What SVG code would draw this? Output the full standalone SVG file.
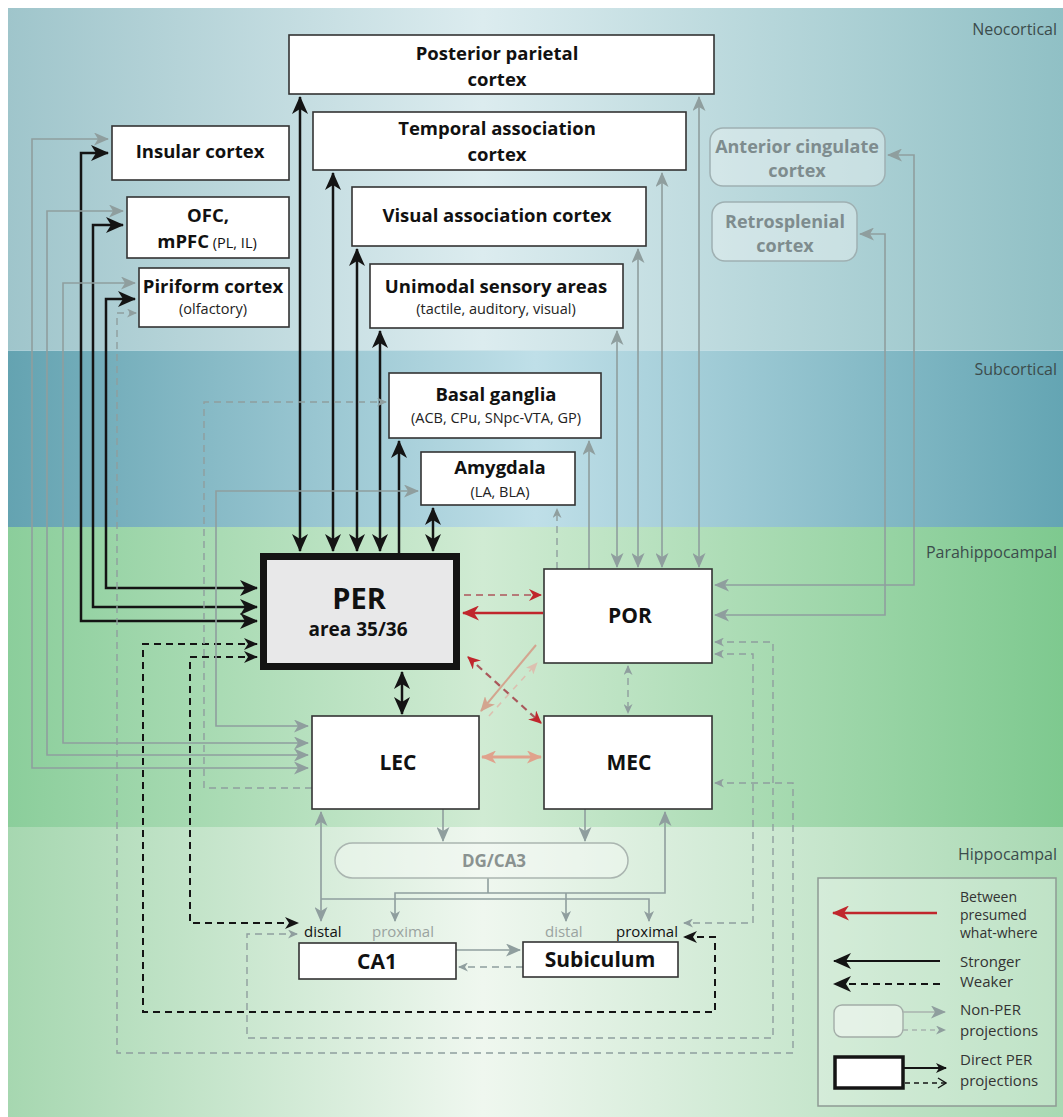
<svg xmlns="http://www.w3.org/2000/svg" width="1063" height="1117" viewBox="0 0 1063 1117">
<defs>
<linearGradient id="gNeo" x1="0" x2="1" y1="0" y2="0">
<stop offset="0" stop-color="#9fc5cb"/><stop offset="0.45" stop-color="#dcecef"/><stop offset="1" stop-color="#90c0c5"/>
</linearGradient>
<linearGradient id="gSub" x1="0" x2="1" y1="0" y2="0">
<stop offset="0" stop-color="#64a3b1"/><stop offset="0.5" stop-color="#bfdfe8"/><stop offset="1" stop-color="#64a5b3"/>
</linearGradient>
<linearGradient id="gPara" x1="0" x2="1" y1="0" y2="0">
<stop offset="0" stop-color="#8bce9b"/><stop offset="0.45" stop-color="#d0ebd3"/><stop offset="1" stop-color="#7ec98f"/>
</linearGradient>
<linearGradient id="gHip" x1="0" x2="1" y1="0" y2="0">
<stop offset="0" stop-color="#a6d7b0"/><stop offset="0.45" stop-color="#eff7ef"/><stop offset="1" stop-color="#a9d9b3"/>
</linearGradient>
<marker id="ab" markerUnits="userSpaceOnUse" viewBox="0 0 18 16" markerWidth="18" markerHeight="16" refX="17" refY="8" orient="auto-start-reverse"><path d="M0,0 L18,8 L0,16 L5,8 Z" fill="#141414"/></marker>
<marker id="abd" markerUnits="userSpaceOnUse" viewBox="0 0 14 12" markerWidth="14" markerHeight="12" refX="13" refY="6" orient="auto-start-reverse"><path d="M0,0 L14,6 L0,12 L4,6 Z" fill="#141414"/></marker>
<marker id="ag" markerUnits="userSpaceOnUse" viewBox="0 0 15 13" markerWidth="15" markerHeight="13" refX="14" refY="6.5" orient="auto-start-reverse"><path d="M0,0 L15,6.5 L0,13 L4,6.5 Z" fill="#8f9e9e"/></marker>
<marker id="ags" markerUnits="userSpaceOnUse" viewBox="0 0 11 10" markerWidth="11" markerHeight="10" refX="10" refY="5" orient="auto-start-reverse"><path d="M0,0 L11,5 L0,10 L3,5 Z" fill="#8f9e9e"/></marker>
<marker id="agd" markerUnits="userSpaceOnUse" viewBox="0 0 10 9" markerWidth="10" markerHeight="9" refX="9" refY="4.5" orient="auto-start-reverse"><path d="M0,0 L10,4.5 L0,9 L3,4.5 Z" fill="#8f9e9e"/></marker>
<marker id="ar" markerUnits="userSpaceOnUse" viewBox="0 0 17 15" markerWidth="17" markerHeight="15" refX="16" refY="7.5" orient="auto-start-reverse"><path d="M0,0 L17,7.5 L0,15 L5,7.5 Z" fill="#c0262c"/></marker>
<marker id="ars" markerUnits="userSpaceOnUse" viewBox="0 0 13 12" markerWidth="13" markerHeight="12" refX="12" refY="6" orient="auto-start-reverse"><path d="M0,0 L13,6 L0,12 L4,6 Z" fill="#c0262c"/></marker>
<marker id="at" markerUnits="userSpaceOnUse" viewBox="0 0 15 13" markerWidth="15" markerHeight="13" refX="14" refY="6.5" orient="auto-start-reverse"><path d="M0,0 L15,6.5 L0,13 L4,6.5 Z" fill="#d3a58f"/></marker>
<marker id="ats" markerUnits="userSpaceOnUse" viewBox="0 0 12 10" markerWidth="12" markerHeight="10" refX="11" refY="5" orient="auto-start-reverse"><path d="M0,0 L12,5 L0,10 L3,5 Z" fill="#dcc0b0"/></marker>
<marker id="atl" markerUnits="userSpaceOnUse" viewBox="0 0 15 13" markerWidth="15" markerHeight="13" refX="14" refY="6.5" orient="auto-start-reverse"><path d="M0,0 L15,6.5 L0,13 L4,6.5 Z" fill="#e0a28c"/></marker>
<marker id="aopen" markerUnits="userSpaceOnUse" viewBox="0 0 10 12" markerWidth="10" markerHeight="12" refX="9" refY="6" orient="auto"><path d="M1,1 L9,6 L1,11" fill="none" stroke="#141414" stroke-width="1.3"/></marker>
<marker id="abs" markerUnits="userSpaceOnUse" viewBox="0 0 11 10" markerWidth="11" markerHeight="10" refX="10" refY="5" orient="auto"><path d="M0,0 L11,5 L0,10 L3,5 Z" fill="#141414"/></marker>
</defs>
<style>
text{font-family:"Open Sans","Liberation Sans",sans-serif;}
.box{fill:#ffffff;stroke:#333333;stroke-width:1.6;}
.soft{fill:#eef5f5;fill-opacity:0.45;stroke:#9fb0b2;stroke-width:1.5;}
.t{font-weight:bold;font-size:18.5px;fill:#111;text-anchor:middle;}
.s{font-size:14.5px;fill:#222;text-anchor:middle;}
.tg{font-weight:bold;font-size:18px;fill:#7e8c8e;text-anchor:middle;}
.big{font-weight:bold;font-size:21px;fill:#111;text-anchor:middle;}
.reg{font-size:16px;fill:#3c4c4c;text-anchor:end;}
.lbl{font-size:15px;}
.leg{font-size:14px;fill:#333;}
.leg2{font-size:15px;fill:#333;}
.k{fill:none;stroke:#141414;stroke-width:2.5;}
.kd{fill:none;stroke:#141414;stroke-width:2;stroke-dasharray:7 5;}
.g{fill:none;stroke:#8f9e9e;stroke-width:1.6;}
.gd{fill:none;stroke:#8f9e9e;stroke-width:1.4;stroke-dasharray:7 5;}
</style>
<rect x="0" y="0" width="1063" height="1117" fill="#ffffff"/>
<rect x="8" y="8" width="1055" height="342" fill="url(#gNeo)"/>
<rect x="8" y="350" width="1055" height="177" fill="url(#gSub)"/>
<rect x="8" y="527" width="1055" height="300" fill="url(#gPara)"/>
<rect x="8" y="827" width="1055" height="290" fill="url(#gHip)"/>
<line x1="8" y1="350.5" x2="1063" y2="350.5" stroke="#d8eaee" stroke-width="1" opacity="0.6"/>
<g id="region-labels">
<text class="reg" x="1057" y="35">Neocortical</text>
<text class="reg" x="1057" y="375">Subcortical</text>
<text class="reg" x="1057" y="558">Parahippocampal</text>
<text class="reg" x="1057" y="860">Hippocampal</text>
</g>
<g id="connectors">
<path class="k" d="M300,551 V97" marker-start="url(#ab)" marker-end="url(#ab)"/>
<path class="k" d="M333,551 V173" marker-start="url(#ab)" marker-end="url(#ab)"/>
<path class="k" d="M357,551 V249" marker-start="url(#ab)" marker-end="url(#ab)"/>
<path class="k" d="M380,551 V331" marker-start="url(#ab)" marker-end="url(#ab)"/>
<path class="k" d="M399,553 V441" marker-end="url(#ab)"/>
<path class="k" d="M433,551 V508" marker-start="url(#ab)" marker-end="url(#ab)"/>
<path class="k" d="M257,621 H81 V153 H108" marker-start="url(#ab)" marker-end="url(#ab)"/>
<path class="k" d="M257,607 H93 V225 H123" marker-start="url(#ab)" marker-end="url(#ab)"/>
<path class="k" d="M257,588 H106 V299 H135" marker-start="url(#ab)" marker-end="url(#ab)"/>
<path class="k" d="M402,672 V714" marker-start="url(#ab)" marker-end="url(#ab)"/>
<path class="kd" d="M257,644 H143 V1012 H715 V937 H684" marker-start="url(#abd)" marker-end="url(#abd)"/>
<path class="kd" d="M257,657 H190 V923 H298" marker-start="url(#abd)" marker-end="url(#abd)"/>
<path d="M464,595 H541" fill="none" stroke="#b57a78" stroke-width="2.2" stroke-dasharray="7 5" marker-end="url(#ars)"/>
<path d="M543,613 H463" fill="none" stroke="#c0262c" stroke-width="2.5" marker-end="url(#ar)"/>
<path d="M468,657 L541,723" fill="none" stroke="#a9585b" stroke-width="2.2" stroke-dasharray="7 5" marker-start="url(#ars)" marker-end="url(#ars)"/>
<path d="M536,645 L481,711" fill="none" stroke="#d3a58f" stroke-width="2" marker-end="url(#at)"/>
<path d="M489,716 L537,663" fill="none" stroke="#dcc0b0" stroke-width="1.6" stroke-dasharray="6 6" marker-end="url(#ats)"/>
<path d="M482,757 H541" fill="none" stroke="#e0a28c" stroke-width="3" marker-start="url(#atl)" marker-end="url(#atl)"/>
<path class="g" d="M699,567 V97" marker-start="url(#ag)" marker-end="url(#ag)"/>
<path class="g" d="M662,567 V173" marker-start="url(#ag)" marker-end="url(#ag)"/>
<path class="g" d="M638,567 V249" marker-start="url(#ag)" marker-end="url(#ag)"/>
<path class="g" d="M617,567 V331" marker-start="url(#ag)" marker-end="url(#ag)"/>
<path class="g" d="M589,569 V441" marker-end="url(#ag)"/>
<path class="g" d="M715,585 H914 V155 H888" marker-start="url(#ag)" marker-end="url(#ag)"/>
<path class="g" d="M715,615 H885 V234 H860" marker-start="url(#ag)" marker-end="url(#ag)"/>
<path class="g" d="M418,491 H216 V726 H308" marker-start="url(#ag)" marker-end="url(#ag)"/>
<path class="g" d="M135,283 H63 V743 H308" marker-start="url(#ag)" marker-end="url(#ag)"/>
<path class="g" d="M123,211 H47 V755 H308" marker-start="url(#ag)" marker-end="url(#ag)"/>
<path class="g" d="M108,139 H32 V768 H308" marker-start="url(#ag)" marker-end="url(#ag)"/>
<path class="g" d="M443,809 V841" marker-end="url(#ag)"/>
<path class="g" d="M585,809 V841" marker-end="url(#ag)"/>
<path class="g" d="M321,812 V921" marker-start="url(#ag)" marker-end="url(#ag)"/>
<path class="g" d="M321,899 H649 V921" marker-end="url(#ags)"/>
<path class="g" d="M665,812 V893 H395 V921" marker-start="url(#ag)" marker-end="url(#ags)"/>
<path class="g" d="M566,893 V921" marker-end="url(#ags)"/>
<path class="g" d="M488,878 V893"/>
<path class="g" d="M456,950 H520" marker-end="url(#ag)"/>
<path class="gd" d="M312,788 H204 V402 H386" marker-end="url(#agd)"/>
<path class="gd" d="M557,569 V509" marker-end="url(#agd)"/>
<path class="gd" d="M628,666 V713" marker-start="url(#agd)" marker-end="url(#agd)"/>
<path class="gd" d="M715,642 H773 V1038 H247 V934 H297" marker-start="url(#agd)" marker-end="url(#agd)"/>
<path class="gd" d="M715,654 H753 V923 H684" marker-start="url(#agd)" marker-end="url(#agd)"/>
<path class="gd" d="M715,783 H793 V1053 H117 V313 H136" marker-start="url(#agd)" marker-end="url(#agd)"/>
<path class="gd" d="M523,967 H459" marker-end="url(#agd)"/>
</g>
<g id="ppc"><rect class="box" x="289" y="35" width="425" height="59"/><text class="t" x="497" y="60">Posterior parietal</text><text class="t" x="497" y="86">cortex</text></g>
<g id="tac"><rect class="box" x="313" y="112" width="373" height="58"/><text class="t" x="497" y="135">Temporal association</text><text class="t" x="497" y="161">cortex</text></g>
<g id="vac"><rect class="box" x="352" y="187" width="294" height="59"/><text class="t" x="497" y="222">Visual association cortex</text></g>
<g id="usa"><rect class="box" x="370" y="264" width="253" height="64"/><text class="t" x="496" y="293">Unimodal sensory areas</text><text class="s" x="496" y="314">(tactile, auditory, visual)</text></g>
<g id="insular"><rect class="box" x="112" y="126" width="177" height="54"/><text class="t" x="200" y="158">Insular cortex</text></g>
<g id="ofc"><rect class="box" x="127" y="197" width="162" height="61"/><text class="t" x="208" y="222">OFC,</text><text class="t" x="207" y="248">mPFC<tspan font-weight="normal" font-size="14.5px"> (PL, IL)</tspan></text></g>
<g id="piriform"><rect class="box" x="139" y="268" width="150" height="59"/><text class="t" x="213" y="293">Piriform cortex</text><text class="s" x="213" y="314">(olfactory)</text></g>
<g id="acc"><rect class="soft" x="710" y="128" width="175" height="58" rx="13"/><text class="tg" x="797" y="153">Anterior cingulate</text><text class="tg" x="797" y="177">cortex</text></g>
<g id="rsc"><rect class="soft" x="712" y="202" width="145" height="59" rx="13"/><text class="tg" x="785" y="228">Retrosplenial</text><text class="tg" x="785" y="252">cortex</text></g>
<g id="bg"><rect class="box" x="389" y="373" width="212" height="65"/><text class="t" x="496" y="401">Basal ganglia</text><text class="s" x="496" y="423">(ACB, CPu, SNpc-VTA, GP)</text></g>
<g id="amy"><rect class="box" x="421" y="452" width="154" height="53"/><text class="t" x="500" y="474">Amygdala</text><text class="s" x="500" y="497">(LA, BLA)</text></g>
<g id="per"><rect x="263.5" y="556.5" width="193" height="110" fill="#e8e8e9" stroke="#141414" stroke-width="7"/><text x="359" y="609" font-weight="bold" font-size="29px" fill="#111" text-anchor="middle">PER</text><text x="358" y="636" font-weight="bold" font-size="19px" fill="#111" text-anchor="middle">area 35/36</text></g>
<g id="por"><rect class="box" x="544" y="569" width="168" height="94"/><text class="big" x="630" y="623">POR</text></g>
<g id="lec"><rect class="box" x="312" y="716" width="167" height="93"/><text class="big" x="398" y="770">LEC</text></g>
<g id="mec"><rect class="box" x="544" y="716" width="168" height="93"/><text class="big" x="629" y="770">MEC</text></g>
<g id="dgca3"><rect x="335" y="843" width="293" height="35" rx="17.5" fill="#f4f9f4" fill-opacity="0.45" stroke="#aab5b0" stroke-width="1.5"/><text x="494" y="867" font-weight="bold" font-size="17px" fill="#8a9290" text-anchor="middle">DG/CA3</text></g>
<g id="ca1"><rect class="box" x="299" y="943" width="157" height="36"/><text class="big" x="377" y="969" font-size="20px">CA1</text></g>
<g id="sub"><rect class="box" x="523" y="942" width="155" height="35"/><text class="big" x="600" y="967" font-size="19px">Subiculum</text></g>
<g id="sublabels">
<text class="lbl" x="304" y="937" fill="#111">distal</text>
<text class="lbl" x="372" y="937" fill="#9aa3a0">proximal</text>
<text class="lbl" x="545" y="937" fill="#9aa3a0">distal</text>
<text class="lbl" x="616" y="937" fill="#111">proximal</text>
</g>
<g id="legend">
<rect x="818" y="878" width="238" height="228" fill="#ffffff" fill-opacity="0.25" stroke="#8e9a94" stroke-width="1.5"/>
<path d="M937,913 H833" fill="none" stroke="#c0262c" stroke-width="2.4" marker-end="url(#ar)"/>
<path d="M940,961 H834" fill="none" stroke="#141414" stroke-width="2.2" marker-end="url(#ab)"/>
<path d="M940,984 H834" fill="none" stroke="#141414" stroke-width="2" stroke-dasharray="7 5" marker-end="url(#ab)"/>
<rect x="834" y="1005" width="69" height="32" rx="8" fill="#f2f6f2" fill-opacity="0.6" stroke="#a3ada8" stroke-width="1.4"/>
<path d="M903,1012 H945" fill="none" stroke="#a8b3ae" stroke-width="1.6" marker-end="url(#ag)"/>
<path d="M903,1030 H945" fill="none" stroke="#a8b3ae" stroke-width="1.3" stroke-dasharray="5 4" marker-end="url(#agd)"/>
<rect x="835" y="1057" width="68" height="31" fill="#ffffff" stroke="#141414" stroke-width="3.5"/>
<path d="M903,1068 H946" fill="none" stroke="#141414" stroke-width="1.8" marker-end="url(#abs)"/>
<path d="M905,1083 H946" fill="none" stroke="#141414" stroke-width="1.3" stroke-dasharray="5 4" marker-end="url(#aopen)"/>
<text class="leg" x="960" y="902">Between</text>
<text class="leg" x="960" y="920">presumed</text>
<text class="leg" x="960" y="938">what-where</text>
<text class="leg2" x="960" y="967">Stronger</text>
<text class="leg2" x="960" y="987">Weaker</text>
<text class="leg2" x="960" y="1015">Non-PER</text>
<text class="leg2" x="960" y="1036">projections</text>
<text class="leg2" x="960" y="1065">Direct PER</text>
<text class="leg2" x="960" y="1086">projections</text>
</g>
</svg>
